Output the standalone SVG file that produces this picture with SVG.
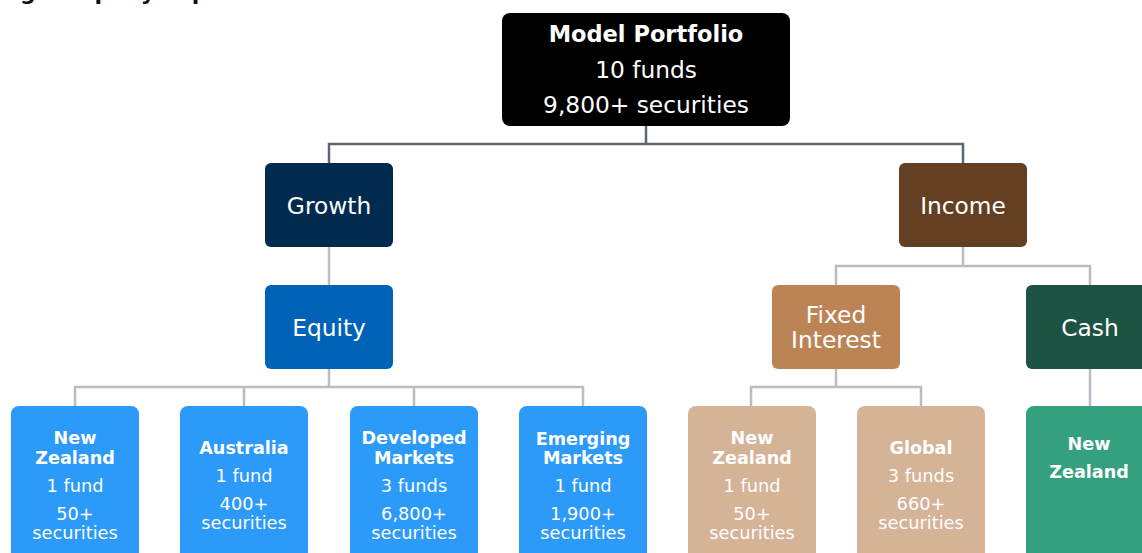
<svg xmlns="http://www.w3.org/2000/svg" width="1142" height="553" viewBox="0 0 1142 553">
<style>
text{font-family:"DejaVu Sans","Liberation Sans",sans-serif;fill:#fff;text-anchor:middle;dominant-baseline:central}
.t{font-size:23.3px}
.h{font-size:17.6px;font-weight:bold}
.r{font-size:17.8px}
.dark{stroke:#5d6676;stroke-width:2.5;fill:none}
.lite{stroke:#b9bcc2;stroke-width:2.5;fill:none}
</style>
<rect width="1142" height="553" fill="#fff"/>
<text x="20" y="-0.5" style="font-size:22px;font-weight:bold;fill:#111;text-anchor:start;dominant-baseline:auto">g company exposures</text>
<g id="connectors">
<path class="dark" d="M646 126V144M329 163V144H963V163"/>
<path class="lite" d="M329 247V285"/>
<path class="lite" d="M963 247V266M836 285V266H1090V285"/>
<path class="lite" d="M329 369V387M75 406V387H583V406M244 387V406M414 387V406"/>
<path class="lite" d="M836 369V387M751 406V387H921V406"/>
<path class="lite" d="M1090 369V406"/>
</g>
<g id="model-portfolio">
<rect x="502" y="13" width="288" height="113" rx="8" fill="#000"/>
<text x="646" y="34" style="font-size:22.5px;font-weight:bold">Model Portfolio</text>
<text x="646" y="69" class="t">10 funds</text>
<text x="646" y="104" class="t">9,800+ securities</text>
</g>
<g id="growth">
<rect x="265" y="163" width="128" height="84" rx="6" fill="#002b4f"/>
<text x="329" y="205" class="t">Growth</text>
</g>
<g id="income">
<rect x="899" y="163" width="128" height="84" rx="6" fill="#633f24"/>
<text x="963" y="205" class="t">Income</text>
</g>
<g id="equity">
<rect x="265" y="285" width="128" height="84" rx="6" fill="#0063b8"/>
<text x="329" y="327" class="t">Equity</text>
</g>
<g id="fixed-interest">
<rect x="772" y="285" width="128" height="84" rx="6" fill="#bc8455"/>
<text x="836" y="314" class="t">Fixed</text>
<text x="836" y="339" class="t">Interest</text>
</g>
<g id="cash">
<rect x="1026" y="285" width="130" height="84" rx="6" fill="#1d5343"/>
<text x="1090" y="327" class="t">Cash</text>
</g>
<g id="eq-nz">
<rect x="11" y="406" width="128" height="160" rx="8" fill="#2b9af8"/>
<text x="75" y="438" class="h">New</text>
<text x="75" y="458" class="h">Zealand</text>
<text x="75" y="485" class="r">1 fund</text>
<text x="75" y="513" class="r">50+</text>
<text x="75" y="532" class="r">securities</text>
</g>
<g id="eq-australia">
<rect x="180" y="406" width="128" height="160" rx="8" fill="#2b9af8"/>
<text x="244" y="448" class="h">Australia</text>
<text x="244" y="475" class="r">1 fund</text>
<text x="244" y="503" class="r">400+</text>
<text x="244" y="522" class="r">securities</text>
</g>
<g id="eq-developed">
<rect x="350" y="406" width="128" height="160" rx="8" fill="#2b9af8"/>
<text x="414" y="438" class="h">Developed</text>
<text x="414" y="458" class="h">Markets</text>
<text x="414" y="485" class="r">3 funds</text>
<text x="414" y="513" class="r">6,800+</text>
<text x="414" y="532" class="r">securities</text>
</g>
<g id="eq-emerging">
<rect x="519" y="406" width="128" height="160" rx="8" fill="#2b9af8"/>
<text x="583" y="439" class="h">Emerging</text>
<text x="583" y="458" class="h">Markets</text>
<text x="583" y="485" class="r">1 fund</text>
<text x="583" y="513" class="r">1,900+</text>
<text x="583" y="532" class="r">securities</text>
</g>
<g id="fi-nz">
<rect x="688" y="406" width="128" height="160" rx="8" fill="#d5b397"/>
<text x="752" y="438" class="h">New</text>
<text x="752" y="458" class="h">Zealand</text>
<text x="752" y="485" class="r">1 fund</text>
<text x="752" y="513" class="r">50+</text>
<text x="752" y="532" class="r">securities</text>
</g>
<g id="fi-global">
<rect x="857" y="406" width="128" height="160" rx="8" fill="#d5b397"/>
<text x="921" y="448" class="h">Global</text>
<text x="921" y="475" class="r">3 funds</text>
<text x="921" y="503" class="r">660+</text>
<text x="921" y="522" class="r">securities</text>
</g>
<g id="cash-nz">
<rect x="1026" y="406" width="130" height="160" rx="8" fill="#34a07f"/>
<text x="1089" y="444" class="h">New</text>
<text x="1089" y="472" class="h">Zealand</text>
</g>
</svg>
